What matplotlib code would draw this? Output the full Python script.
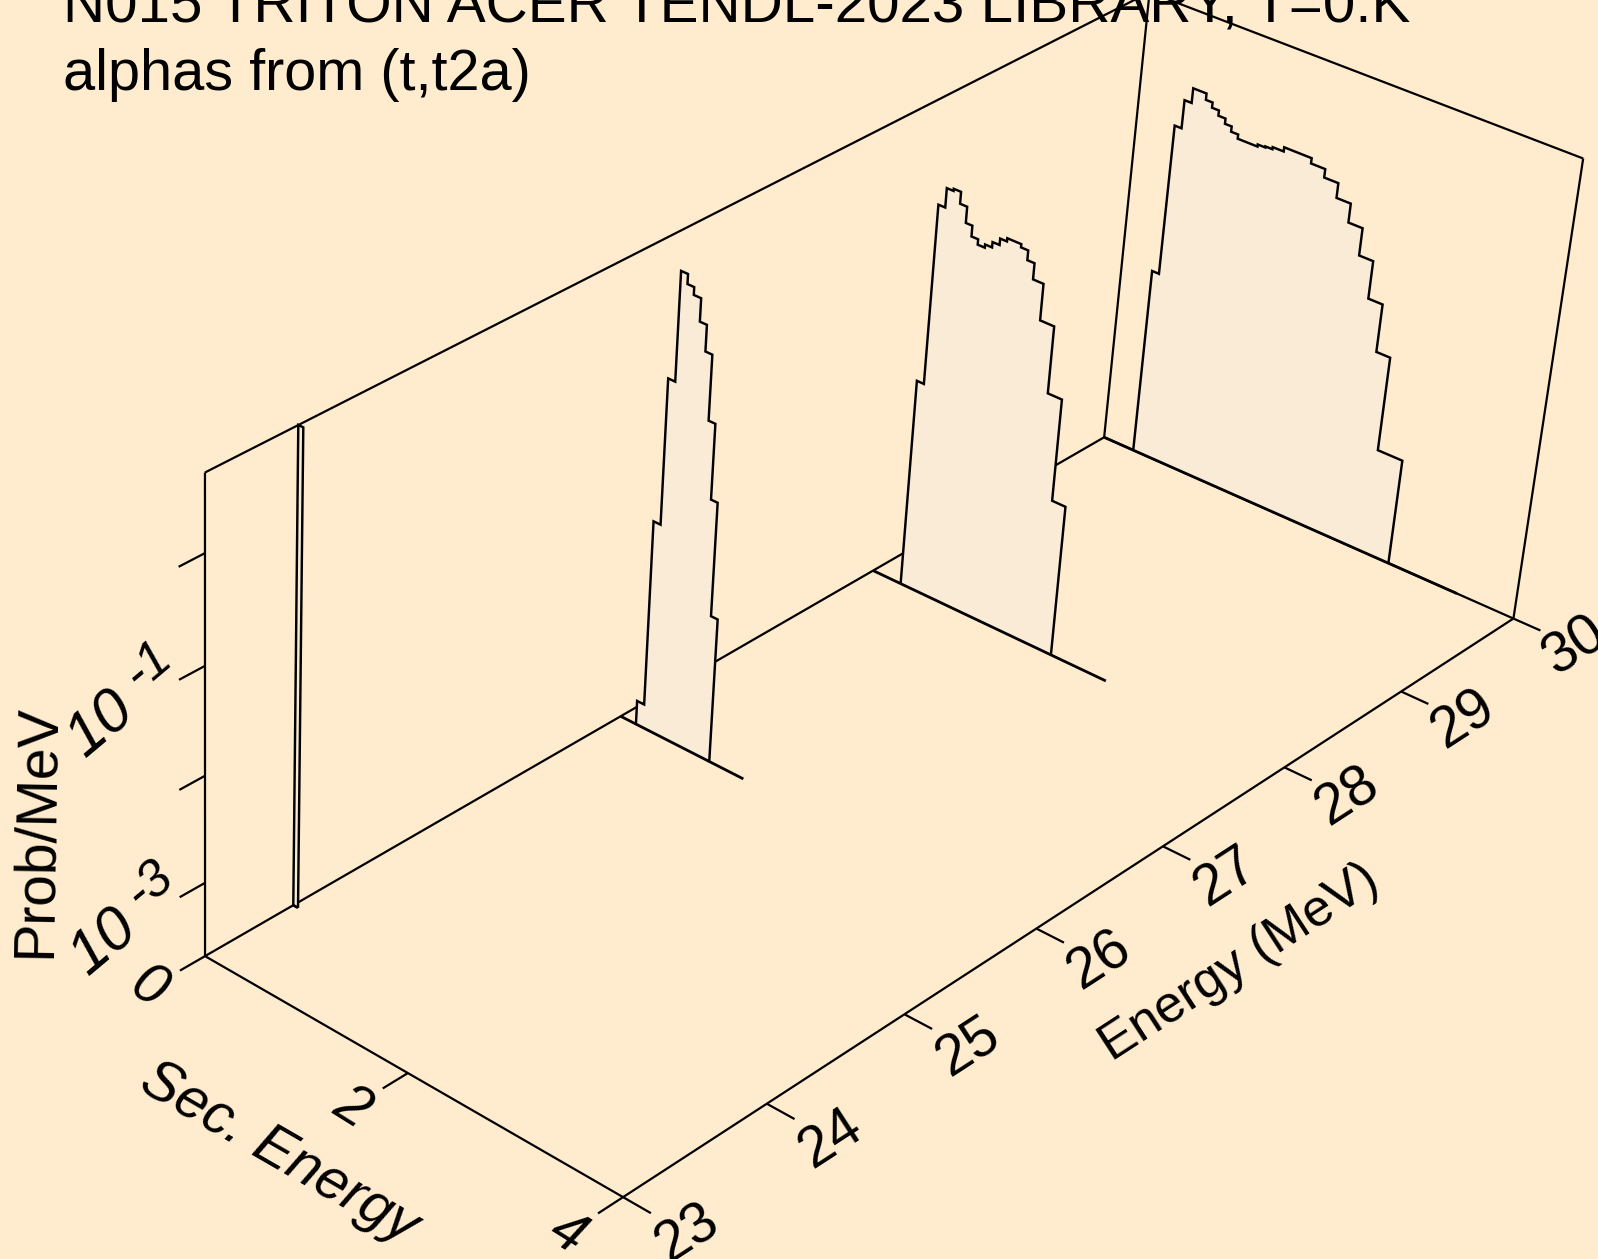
import math
import numpy as np
import matplotlib
matplotlib.use('Agg')
import matplotlib.pyplot as plt
from mpl_toolkits.mplot3d.art3d import Poly3DCollection, Line3DCollection
from mpl_toolkits.mplot3d import proj3d

plt.rcParams['font.family'] = ['Liberation Sans', 'DejaVu Sans']

# ---------------- data ----------------
TITLE_1 = 'N015 TRITON ACER TENDL-2023 LIBRARY, T=0.K'
TITLE_2 = 'alphas from (t,t2a)'
X_LABEL = 'Energy (MeV)'
Y_LABEL = 'Sec. Energy'
Z_LABEL = 'Prob/MeV'

energy_ticks = [23, 24, 25, 26, 27, 28, 29, 30]
sec_ticks = [0, 2, 4]
log_prob_ticks = [-3, -2, -1, 0]
log_prob_labelled = [-3, -1]
prob_min, prob_max = 2e-4, 5.0

incident_energies = [23.607, 26.0, 28.013, 30.0]

edges_a = [0.0, 0.048]
log_prob_a = [0.70]
base_end_a = 0.048

edges_b = [0.155, 0.226, 0.295, 0.363, 0.429, 0.493, 0.563, 0.630, 0.696, 0.761, 0.825, 0.890]
log_prob_b = [-3.47, -1.70, -0.34, 0.66, 0.57, 0.50, 0.29, 0.05, -0.55, -1.25, -2.32]
base_end_b = 1.227

edges_c = [0.280, 0.349, 0.415, 0.480, 0.550, 0.618, 0.681, 0.745, 0.813, 0.880, 0.947, 1.012,
           1.145, 1.213, 1.281, 1.380, 1.513, 1.647, 1.775]
log_prob_c = [-1.69, 0.01, 0.19, 0.21, 0.10, -0.05, -0.15, -0.20, -0.17, -0.12, -0.06, -0.03,
              -0.06, -0.15, -0.30, -0.64, -1.27, -2.24]
base_end_c = 2.307

edges_d = [0.298, 0.366, 0.433, 0.502, 0.631, 0.696, 0.763, 0.832, 0.897, 0.965, 1.155, 1.227,
           1.294, 1.399, 1.659, 1.793, 1.926, 2.060, 2.193, 2.325, 2.459, 2.589, 2.821]
log_prob_d = [-1.88, -0.43, -0.16, -0.02, -0.08, -0.13, -0.18, -0.23, -0.28, -0.32, -0.30, -0.29,
              -0.27, -0.23, -0.28, -0.36, -0.50, -0.68, -0.94, -1.30, -1.76, -2.67]
base_end_d = 3.472

all_edges = [edges_a, edges_b, edges_c, edges_d]
all_log_prob = [log_prob_a, log_prob_b, log_prob_c, log_prob_d]
all_base_end = [base_end_a, base_end_b, base_end_c, base_end_d]

# ---------------- camera: the view of the 3-D box on the canvas ----------------
W, H = 1598, 1259
zmin, zmax = math.log10(prob_min), math.log10(prob_max)
E0, E1, S0, S1 = energy_ticks[0], energy_ticks[-1], sec_ticks[0], sec_ticks[-1]
view_anchor_world = np.array([
    (23, 0, zmin), (23, 4, zmin), (30, 4, zmin), (30, 0, zmin),
    (23, 0, zmax), (30, 4, zmax), (30, 0, zmax),
    (24, 4, zmin), (25, 4, zmin), (26, 4, zmin), (27, 4, zmin), (28, 4, zmin), (29, 4, zmin),
    (23, 0, -3), (23, 0, -2), (23, 0, -1), (23, 0, 0), (23, 2, zmin)], float)
view_anchor_canvas = np.array([
    (205, 956), (624, 1197), (1513.3, 619.3), (1104.7, 436.2),
    (205, 471.8), (1583.7, 158), (1149, -7),
    (766.4, 1103.7), (904, 1014), (1036.4, 928.4), (1162.8, 845.9), (1284, 767.4), (1401.3, 692),
    (205, 883), (205, 776.7), (205, 666), (205, 553), (407.8, 1073.3)], float)

Tw = np.diag([1 / 7, 1 / 4, 1 / (zmax - zmin), 1.0])
Tw[0, 3] = -23 / 7
Tw[2, 3] = -zmin / (zmax - zmin)
Tp = np.diag([1 / W, 1 / H, 1.0])
rows = []
for w, c in zip(view_anchor_world, view_anchor_canvas):
    X = Tw @ np.r_[w, 1]
    u, v = c[0] / W, c[1] / H
    rows.append(np.r_[X, 0, 0, 0, 0, -u * X])
    rows.append(np.r_[0, 0, 0, 0, X, -v * X])
Pn = np.linalg.svd(np.array(rows))[2][-1].reshape(3, 4)
P = np.linalg.inv(Tp) @ Pn @ Tw
P = P / np.linalg.norm(P[2, :3])
M = np.vstack([P[0], P[1], np.linalg.svd(P)[2][-1], P[2]])

# ---------------- figure ----------------
BG = '#FFEBCD'
FILL = '#FAEBD7'
LW_FRAME, LW_CURVE, LW_BASE = 1.6, 1.75, 2.0
fig = plt.figure(figsize=(W / 100, H / 100), dpi=100, facecolor=BG)
ax = fig.add_axes([0, 0, 1, 1], projection='3d')
ax.set_axis_off()
ax.patch.set_facecolor('none')
ax.computed_zorder = False
ax.apply_aspect = lambda position=None: None
ax.get_proj = lambda: M


def path3d(e, s, z, zorder=1, lw=LW_FRAME):
    seg = np.column_stack([np.broadcast_to(e, np.shape(s)), s, z])
    lc = Line3DCollection([seg], colors='k', linewidths=lw, zorder=zorder,
                          capstyle='butt', joinstyle='miter')
    ax.add_collection3d(lc, autolim=False)


# box
path3d(E0, [S0, S1], [zmin, zmin])
path3d(E1, [S0, S1], [zmin, zmin])
path3d([E0, E1], [S0, S0], [zmin, zmin])
path3d([E0, E1], [S1, S1], [zmin, zmin])
path3d(E0, [S0, S0], [zmin, zmax])
path3d(E1, [S0, S0], [zmin, zmax])
path3d(E1, [S1, S1], [zmin, zmax])
path3d([E0, E1], [S0, S0], [zmax, zmax])
path3d(E1, [S0, S1], [zmax, zmax])

# ticks
TICK_DE, TICK_DS = 0.17, 0.25
for e in energy_ticks:
    path3d(e, [S1, S1 + TICK_DS], [zmin, zmin])
for s in sec_ticks:
    path3d([E0 - TICK_DE, E0], [s, s], [zmin, zmin])
for z in log_prob_ticks:
    path3d([E0 - TICK_DE, E0], [S0, S0], [z, z])

# spectra
for e, edges, lp, end in zip(incident_energies, all_edges, all_log_prob, all_base_end):
    xs = np.repeat(edges, 2)
    zs = np.r_[zmin, np.repeat(lp, 2), zmin]
    ax.add_collection3d(Poly3DCollection([list(zip(np.full(len(xs), e), xs, zs))],
                                         facecolor=FILL, edgecolor='none', zorder=2), autolim=False)
    path3d(e, xs, zs, zorder=3, lw=LW_CURVE)
    path3d(e, [0, end], [zmin, zmin], zorder=3, lw=LW_BASE)

ax.viewLim.intervalx = (0, W)
ax.viewLim.intervaly = (H, 0)


def place(e, s, z, text, rot, **kw):
    x, y, _ = proj3d.proj_transform(e, s, z, M)
    fig.text(x / W, 1 - y / H, text, rotation=rot, ha='center', va='center', **kw)


FS = 41
for e in energy_ticks:
    place(e, 4.57, zmin, str(e), 33, fontsize=FS)
for s in sec_ticks:
    place(22.62, s, zmin, str(s), -32, fontsize=FS, style='italic')
for z in log_prob_labelled:
    place(22.33, 0, z - 0.03, '10', 40, fontsize=44, style='italic')
    place(22.63, 0, z + 0.27, str(z), 40, fontsize=37, style='italic')

fig.text(37 / W, 1 - 831 / H, Z_LABEL, rotation=89, ha='center', va='center', fontsize=41)
fig.text(279 / W, 1 - 1153 / H, Y_LABEL, rotation=-30, ha='center', va='center', fontsize=41, style='italic')
fig.text(1239 / W, 1 - 963 / H, X_LABEL, rotation=33, ha='center', va='center', fontsize=37.5)

fig.text(63 / W, 1 - 22 / H, TITLE_1, ha='left', va='baseline', fontsize=42)
fig.text(63 / W, 1 - 90 / H, TITLE_2, ha='left', va='baseline', fontsize=41.5)

fig.savefig('out.png', dpi=100, facecolor=BG)
